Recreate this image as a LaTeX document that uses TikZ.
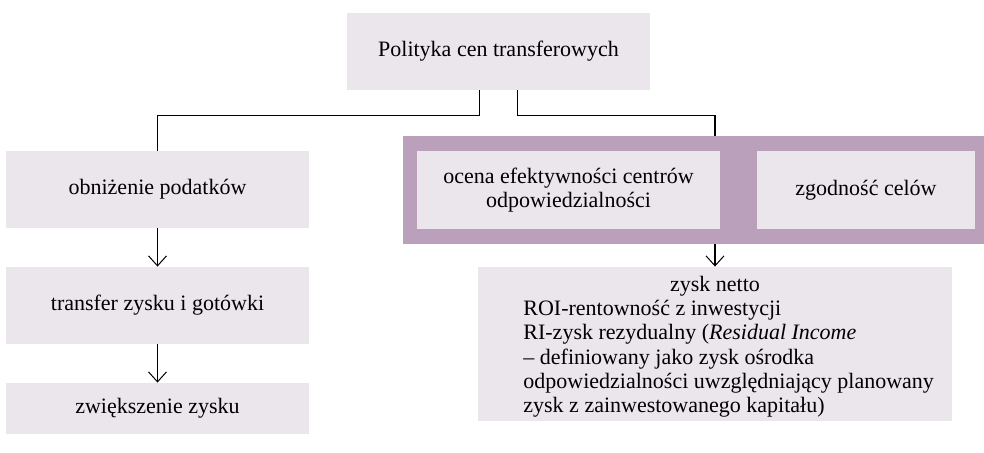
\documentclass[tikz,border=0pt]{standalone}
\usepackage{fontspec}
\setmainfont{Liberation Serif}
\usetikzlibrary{arrows.meta}
\definecolor{boxfill}{RGB}{235,229,236}
\definecolor{framefill}{RGB}{187,160,188}
\begin{document}
\begin{tikzpicture}[x=0.5pt,y=-0.5pt,
  font=\fontsize{11}{12.2}\selectfont,
  box/.style={fill=boxfill,inner sep=0pt,minimum width=151.5pt,minimum height=38.5pt,align=center},
  link/.style={line width=0.6pt},
  arr/.style={link,-{Straight Barb[length=5pt,width=9pt,line width=0.5pt]}}]
  \useasboundingbox(0,0)rectangle(984,453);
  \node[box](top)at(498.5,51.5){Polityka cen transferowych};
  % lewa kolumna
  \node[box](lb1)at(157.5,189.5){obniżenie podatków};
  \node[box](lb2)at(157.5,305.5){transfer zysku i gotówki};
  \node[box,minimum height=25.5pt](lb3)at(157.5,408.5){zwiększenie zysku};
  % prawa kolumna
  \node[fill=framefill,inner sep=0pt,minimum width=290.5pt,minimum height=54pt](frame)at(693.5,190){};
  \node[box,minimum height=39pt](rb1)at(568.5,190){ocena efektywności centrów\\odpowiedzialności};
  \node[box,minimum width=109pt,minimum height=39pt](rb2)at(866,190){zgodność celów};
  \node[box,minimum width=237pt,minimum height=77pt](zysk)at(715,344){};
  \node[anchor=base,inner sep=0pt](zysktyt)at(715,292){zysk netto};
  \node[align=left,anchor=base west,inner sep=0pt](zyskopis)at(523,413){ROI-rentowność z inwestycji\\
    RI-zysk rezydualny (\textit{Residual Income}\\
    – definiowany jako zysk ośrodka\\
    odpowiedzialności uwzględniający planowany\\
    zysk z zainwestowanego kapitału)};
  \draw[link]([xshift=-9.5pt]top.south)--++(0,25)-|(lb1.north);
  \draw[link]([xshift=9.5pt]top.south)--++(0,25)-|(zysk.north|-frame.north);
  \draw[arr](lb1)--(lb2);
  \draw[arr](lb2)--(lb3);
  \draw[arr](frame.south-|zysk.north)--(zysk.north);
\end{tikzpicture}
\end{document}
